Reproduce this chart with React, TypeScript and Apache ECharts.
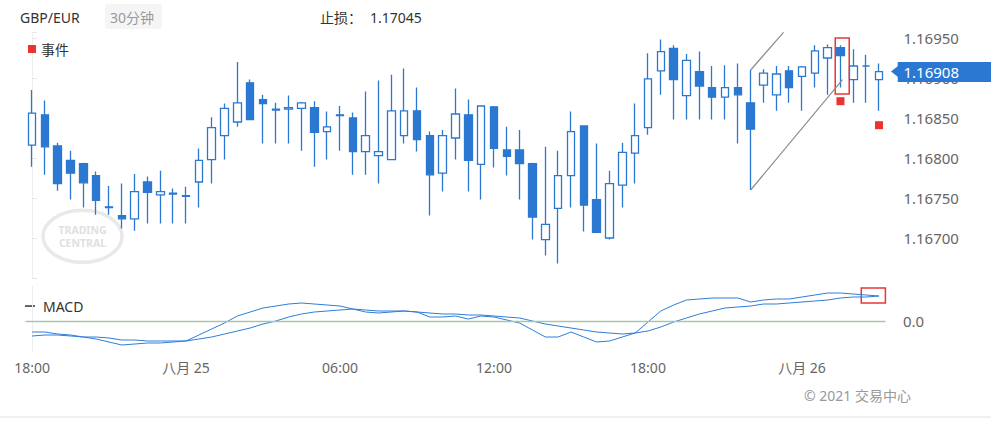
import React, { useEffect, useRef } from 'react';
import * as echarts from 'echarts';

const FONT = '"Noto Sans", "Noto Sans CJK SC", sans-serif';
const BLUE = '#2b78d2';
const RED = '#e53935';

// 30-minute bars starting 24 Aug 18:00
const START = Date.UTC(2021, 7, 24, 18, 0);
const BAR_COUNT = 67;
const categories: string[] = [];
for (let i = 0; i < BAR_COUNT; i++) {
  const d = new Date(START + i * 30 * 60 * 1000);
  const dd = String(d.getUTCDate()).padStart(2, '0');
  const hh = String(d.getUTCHours()).padStart(2, '0');
  const mm = String(d.getUTCMinutes()).padStart(2, '0');
  categories.push(`08-${dd} ${hh}:${mm}`);
}

const opens = [
  1.16816, 1.16854, 1.16815, 1.16797, 1.16793, 1.16778, 1.16739, 1.16728, 1.16724, 1.1677,
  1.16754, 1.16756, 1.16753, 1.1677, 1.16798, 1.16828, 1.16845, 1.16894, 1.16873, 1.16861,
  1.16861, 1.16862, 1.16863, 1.16833, 1.16854, 1.1685, 1.16808, 1.16803, 1.16798, 1.16828,
  1.16859, 1.16828, 1.16781, 1.16825, 1.16854, 1.16792, 1.16864, 1.1681, 1.1681, 1.16793,
  1.16698, 1.16737, 1.16778, 1.1684, 1.16748, 1.167, 1.16766, 1.16806, 1.16838, 1.16909,
  1.16937, 1.16878, 1.16908, 1.16888, 1.16876, 1.16888, 1.16869, 1.16891, 1.16879, 1.16909,
  1.16902, 1.16906, 1.16925, 1.16938, 1.16898, 1.16915, 1.16898,
];
const closes = [
  1.16856, 1.16814, 1.16768, 1.16781, 1.16769, 1.16747, 1.16738, 1.16724, 1.16758, 1.16757,
  1.16758, 1.16755, 1.16752, 1.16797, 1.16838, 1.16862, 1.16869, 1.16848, 1.16868, 1.1686,
  1.16863, 1.16869, 1.16832, 1.16839, 1.16853, 1.16808, 1.16828, 1.16808, 1.16859, 1.16859,
  1.16823, 1.16779, 1.16828, 1.16855, 1.16797, 1.16865, 1.16812, 1.16802, 1.16793, 1.16726,
  1.16717, 1.16778, 1.16833, 1.16741, 1.16707, 1.16768, 1.16807, 1.16828, 1.16899, 1.16933,
  1.16898, 1.16922, 1.1689, 1.16876, 1.16888, 1.16879, 1.16836, 1.16906, 1.16905, 1.16888,
  1.16914, 1.16934, 1.16938, 1.16928, 1.16915, 1.16915, 1.16908,
];
const lows = [
  1.16789, 1.16779, 1.16759, 1.16748, 1.16738, 1.16729, 1.16729, 1.16712, 1.16709, 1.16718,
  1.16718, 1.16718, 1.16718, 1.16738, 1.16768, 1.16798, 1.16839, 1.16848, 1.16818, 1.16818,
  1.16818, 1.16809, 1.16789, 1.16798, 1.16809, 1.16779, 1.16779, 1.16768, 1.16798, 1.16818,
  1.16808, 1.16728, 1.16758, 1.16798, 1.16758, 1.16748, 1.16788, 1.16778, 1.16748, 1.16698,
  1.16678, 1.16668, 1.16738, 1.16708, 1.16706, 1.16698, 1.16738, 1.16768, 1.16829, 1.16879,
  1.16848, 1.16848, 1.16848, 1.16848, 1.16848, 1.16818, 1.1676, 1.16869, 1.16859, 1.16869,
  1.16859, 1.16888, 1.16879, 1.16888, 1.16869, 1.16869, 1.16859,
];
const highs = [
  1.16885, 1.16872, 1.16819, 1.16809, 1.16794, 1.16783, 1.16765, 1.16768, 1.1678, 1.16777,
  1.16784, 1.16762, 1.16764, 1.16812, 1.16851, 1.16868, 1.1692, 1.16898, 1.16879, 1.16869,
  1.16878, 1.1687, 1.16871, 1.16858, 1.16865, 1.16857, 1.16883, 1.16897, 1.16904, 1.16912,
  1.16888, 1.16833, 1.16835, 1.16887, 1.16873, 1.16866, 1.16865, 1.16839, 1.16835, 1.16794,
  1.16814, 1.16809, 1.16858, 1.16841, 1.16818, 1.16784, 1.16819, 1.16868, 1.16931, 1.16948,
  1.16941, 1.1693, 1.16933, 1.16915, 1.16916, 1.16918, 1.1691, 1.16911, 1.16915, 1.16915,
  1.16915, 1.16941, 1.16942, 1.16941, 1.16936, 1.16929, 1.16918,
];

const macdLine = [
  -0.00011, -0.00011, -0.00013, -0.00014, -0.00016, -0.00018, -0.00021, -0.00024, -0.00023, -0.00022,
  -0.00022, -0.00021, -0.0002, -0.00014, -0.00008, -0.00002, 0.00005, 0.00009, 0.00013, 0.00015,
  0.00017, 0.00018, 0.00017, 0.00016, 0.00015, 0.00012, 0.00009, 0.00008, 0.00009, 0.0001,
  0.00009, 0.00004, 0.00004, 0.00005, 0.00002, 0.00005, 0.00004, 0.00001, -0.00002, -0.00009,
  -0.00016, -0.00016, -0.00011, -0.00016, -0.00021, -0.0002, -0.00016, -0.00012, -0.00001, 0.0001,
  0.00016, 0.00021, 0.00022, 0.00023, 0.00023, 0.00023, 0.00019, 0.00021, 0.00022, 0.00022,
  0.00024, 0.00026, 0.00028, 0.00028, 0.00027, 0.00026, 0.00025,
];
const signalLine = [
  -0.00015, -0.00014, -0.00014, -0.00015, -0.00016, -0.00016, -0.00017, -0.00019, -0.00019, -0.0002,
  -0.0002, -0.0002, -0.0002, -0.00018, -0.00016, -0.00013, -0.0001, -0.00007, -0.00003, 0.0,
  0.00004, 0.00007, 0.00009, 0.0001, 0.00011, 0.00012, 0.00011, 0.0001, 0.0001, 0.0001,
  0.00009, 0.00008, 0.00007, 0.00007, 0.00006, 0.00006, 0.00005, 0.00004, 0.00003, 0.0,
  -0.00003, -0.00005, -0.00007, -0.00009, -0.00011, -0.00012, -0.00013, -0.00012, -0.0001, -0.00006,
  -0.00001, 0.00003, 0.00007, 0.0001, 0.00013, 0.00014, 0.00015, 0.00017, 0.00017, 0.00018,
  0.00019, 0.0002, 0.00021, 0.00023, 0.00024, 0.00024, 0.00025,
];

// event markers: [bar index, price]
const events = [
  [63, 1.16871],
  [66, 1.16841],
];

// drawn pattern lines: [bar position, price]
const trendUpper = [
  [56, 1.1691],
  [58.56, 1.16957],
];
const trendLower = [
  [56, 1.1676],
  [63.16, 1.16898],
];
// highlight boxes: [[x1, y1], [x2, y2]]
const priceBox = [
  [62.59, 1.1695],
  [63.68, 1.1688],
];
const macdBox = [
  [64.62, 0.00033],
  [66.64, 0.00018],
];

const stopLoss = '1.17045';
const lastPrice = closes[closes.length - 1];
const candleData = opens.map((o, i) => [o, closes[i], lows[i], highs[i]]);

const GRID_LEFT = 25.6;
const GRID_RIGHT = 105.6;

function timeLabel(v: string) {
  const [date, time] = v.split(' ');
  if (time === '00:00') return `八月 ${String(Number(date.split('-')[1]))}`;
  return time;
}

function buildOption(arrowY: number | null) {
  const txt = (text: string, x: number, y: number, size: number, fill: string, extra: any = {}) => ({
    type: 'text',
    x,
    y,
    silent: true,
    style: {
      text,
      fill,
      fontSize: size,
      fontFamily: FONT,
      align: 'left',
      verticalAlign: 'middle',
      ...extra,
    },
  });

  const graphics: any[] = [
    txt('GBP/EUR', 20, 17, 14, '#333'),
    {
      type: 'rect',
      silent: true,
      shape: { x: 105, y: 4, width: 57, height: 25, r: 3 },
      style: { fill: '#f5f5f5' },
    },
    txt('30分钟', 110, 17, 14, '#999'),
    txt('止损：', 320, 17, 14, '#333'),
    txt(stopLoss, 370, 17, 14, '#333'),
    {
      type: 'rect',
      silent: true,
      shape: { x: 25, y: 305.3, width: 10, height: 1.5 },
      style: { fill: '#333' },
    },
    txt('MACD', 43, 306, 14, '#333'),
    txt('© 2021 交易中心', 804, 395, 14, '#999'),
    {
      type: 'rect',
      silent: true,
      shape: { x: 0, y: 416, width: 991, height: 2 },
      style: { fill: '#f0f0f0' },
    },
    {
      type: 'ellipse',
      silent: true,
      z: -1,
      shape: { cx: 82.5, cy: 236.3, rx: 39.5, ry: 26 },
      style: { fill: 'none', stroke: '#e9e9e9', lineWidth: 3.5 },
    },
    txt('TRADING', 82.5, 229.5, 10.5, '#e0e0e0', { align: 'center', fontWeight: 'bold' }),
    txt('CENTRAL', 82.5, 243, 10.5, '#e0e0e0', { align: 'center', fontWeight: 'bold' }),
  ];
  if (arrowY !== null) {
    graphics.push(
      {
        type: 'polygon',
        silent: true,
        z: 10,
        shape: {
          points: [
            [891, arrowY],
            [898, arrowY - 5.5],
            [898, arrowY + 5.5],
          ],
        },
        style: { fill: BLUE },
      },
      {
        type: 'rect',
        silent: true,
        z: 10,
        shape: { x: 897.7, y: arrowY - 9.5, width: 93.3, height: 20 },
        style: { fill: BLUE },
      },
      {
        type: 'text',
        silent: true,
        z: 11,
        x: 903.5,
        y: arrowY + 0.5,
        style: {
          text: lastPrice.toFixed(5),
          fill: '#ffffff',
          fontSize: 15,
          fontFamily: FONT,
          align: 'left',
          verticalAlign: 'middle',
        },
      }
    );
  }

  return {
    animation: false,
    textStyle: { fontFamily: FONT },
    legend: {
      data: [{ name: '事件', icon: 'rect' }],
      left: 28,
      top: 42,
      padding: 0,
      itemWidth: 8,
      itemHeight: 8,
      itemGap: 10,
      selectedMode: false,
      textStyle: { color: '#333', fontSize: 14, fontFamily: FONT },
    },
    grid: [
      { left: GRID_LEFT, right: GRID_RIGHT, top: 32, height: 246 },
      { left: GRID_LEFT, right: GRID_RIGHT, top: 286, height: 65 },
    ],
    xAxis: [
      { type: 'category', gridIndex: 0, data: categories, boundaryGap: true, show: false },
      {
        type: 'category',
        gridIndex: 1,
        data: categories,
        boundaryGap: true,
        axisLine: { lineStyle: { color: '#eeeeee' } },
        axisTick: { alignWithLabel: true, interval: 11, length: 5, lineStyle: { color: '#eeeeee' } },
        axisLabel: {
          interval: 11,
          margin: 9,
          color: '#666',
          fontSize: 14,
          fontFamily: FONT,
          formatter: (v: string) => timeLabel(v),
        },
        splitLine: { show: false },
      },
      { type: 'value', gridIndex: 0, min: -0.5, max: BAR_COUNT - 0.5, show: false },
      { type: 'value', gridIndex: 1, min: -0.5, max: BAR_COUNT - 0.5, show: false },
    ],
    yAxis: [
      {
        type: 'value',
        gridIndex: 0,
        position: 'right',
        offset: 6,
        min: 1.1665,
        max: 1.169575,
        interval: 0.0005,
        axisLine: { show: true, lineStyle: { color: '#eeeeee' } },
        axisTick: { show: true, length: 5, lineStyle: { color: '#e6e6e6' } },
        axisLabel: {
          margin: 12,
          color: '#666',
          fontSize: 15,
          fontFamily: FONT,
          formatter: (v: number) => {
            const k = Math.round(v * 1e5);
            if (k % 50 !== 0 || k < 116700 || k > 116950) return '';
            return v.toFixed(5);
          },
        },
        splitLine: { show: false },
      },
      {
        type: 'value',
        gridIndex: 1,
        position: 'right',
        offset: 13.6,
        min: -0.0003,
        max: 0.00035,
        interval: 0.00005,
        axisLine: { show: true, lineStyle: { color: '#eeeeee' } },
        axisTick: { show: false },
        axisLabel: {
          margin: 4,
          color: '#666',
          fontSize: 15,
          fontFamily: FONT,
          formatter: (v: number) => (Math.abs(v) < 1e-9 ? '0.0' : ''),
        },
        splitLine: { show: false },
      },
    ],
    series: [
      {
        name: 'GBP/EUR',
        type: 'candlestick',
        xAxisIndex: 0,
        yAxisIndex: 0,
        data: candleData,
        barWidth: 8,
        itemStyle: {
          color: '#ffffff',
          color0: BLUE,
          borderColor: BLUE,
          borderColor0: BLUE,
          borderWidth: 1.3,
        },
      },
      {
        name: 'trendUpper',
        type: 'line',
        xAxisIndex: 2,
        yAxisIndex: 0,
        data: trendUpper,
        symbol: 'none',
        silent: true,
        lineStyle: { color: '#8c8c8c', width: 1.2 },
        markArea: {
          silent: true,
          label: { show: false },
          itemStyle: { color: 'rgba(0,0,0,0)', borderColor: RED, borderWidth: 1.5 },
          data: [[{ coord: priceBox[0] }, { coord: priceBox[1] }]],
        },
      },
      {
        name: 'trendLower',
        type: 'line',
        xAxisIndex: 2,
        yAxisIndex: 0,
        data: trendLower,
        symbol: 'none',
        silent: true,
        lineStyle: { color: '#8c8c8c', width: 1.2 },
      },
      {
        name: '事件',
        type: 'scatter',
        xAxisIndex: 0,
        yAxisIndex: 0,
        data: events,
        symbol: 'rect',
        symbolSize: 8,
        z: 5,
        itemStyle: { color: '#e60000' },
      },
      {
        name: 'MACD',
        type: 'line',
        xAxisIndex: 1,
        yAxisIndex: 1,
        data: macdLine,
        symbol: 'none',
        lineStyle: { color: '#2f7dd8', width: 1 },
        markLine: {
          silent: true,
          symbol: ['none', 'none'],
          label: { show: false },
          lineStyle: { color: '#a9c6a9', width: 1.3, type: 'solid' },
          data: [{ yAxis: 0 }],
        },
      },
      {
        name: 'Signal',
        type: 'line',
        xAxisIndex: 1,
        yAxisIndex: 1,
        data: signalLine,
        symbol: 'none',
        lineStyle: { color: '#2f7dd8', width: 1 },
      },
      {
        name: 'macdBox',
        type: 'line',
        xAxisIndex: 3,
        yAxisIndex: 1,
        data: [],
        symbol: 'none',
        markArea: {
          silent: true,
          label: { show: false },
          itemStyle: { color: 'rgba(0,0,0,0)', borderColor: RED, borderWidth: 1.5 },
          data: [[{ coord: macdBox[0] }, { coord: macdBox[1] }]],
        },
      },
    ],
    graphic: graphics,
  };
}

export default function App() {
  const ref = useRef<HTMLDivElement>(null);
  useEffect(() => {
    if (!ref.current) return;
    const chart = echarts.init(ref.current, undefined, { renderer: 'svg' });
    chart.setOption(buildOption(null) as any);
    const py = chart.convertToPixel({ yAxisIndex: 0 } as any, lastPrice) as unknown as number;
    chart.setOption(buildOption(typeof py === 'number' ? py : null) as any, true);
    return () => chart.dispose();
  }, []);
  return (
    <div
      ref={ref}
      style={{ position: 'absolute', left: 0, top: 0, width: 991, height: 424, background: '#fff' }}
    />
  );
}
